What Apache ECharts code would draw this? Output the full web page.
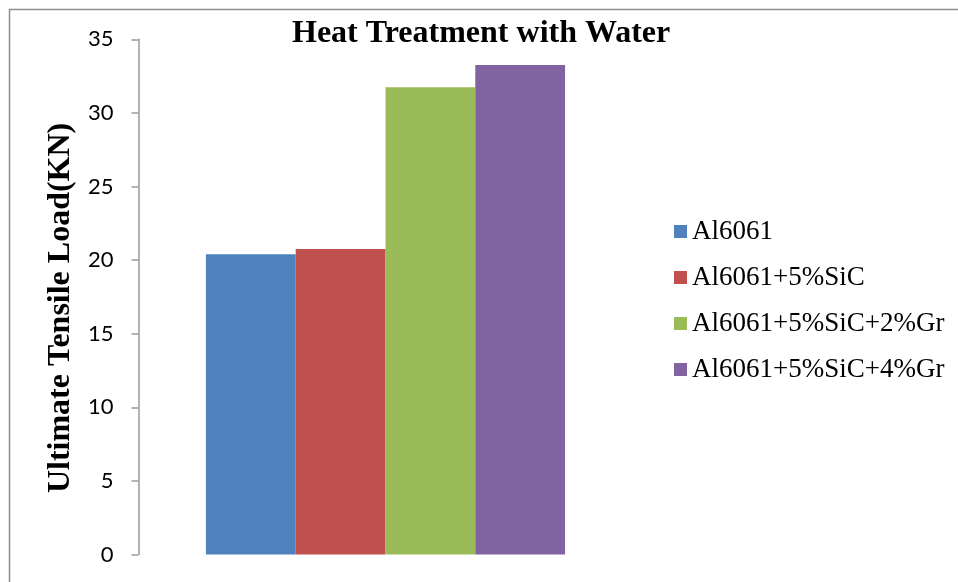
<!DOCTYPE html>
<html>
<head>
<meta charset="utf-8">
<script src="https://cdn.jsdelivr.net/npm/echarts@6/dist/echarts.min.js"></script>
<style>
html,body{margin:0;padding:0;background:#fff;}
#chart{width:958px;height:582px;}
</style>
</head>
<body>
<div id="chart"></div>
<script>
const chartTitle = 'Heat Treatment with Water';
const yAxisTitle = 'Ultimate Tensile Load(KN)';
const categories = [''];
const seriesNames = ['Al6061', 'Al6061+5%SiC', 'Al6061+5%SiC+2%Gr', 'Al6061+5%SiC+4%Gr'];
const seriesValues = [20.4, 20.75, 31.75, 33.25];
const seriesColors = ['#4F81BD', '#C0504D', '#9BBB59', '#8064A2'];
const yTicks = [0, 5, 10, 15, 20, 25, 30, 35];

const chart = echarts.init(document.getElementById('chart'), null, {renderer: 'canvas'});
const serif = '"Liberation Serif", "Times New Roman", serif';

chart.setOption({
  animation: false,
  backgroundColor: '#fff',
  title: {
    text: chartTitle,
    left: 292,
    top: 18,
    padding: 0,
    textStyle: {fontFamily: serif, fontWeight: 'bold', fontSize: 32, color: '#000'}
  },
  graphic: [{
    type: 'rect',
    shape: {x: 9.5, y: 9.5, width: 1000, height: 1000},
    style: {fill: 'none', stroke: '#8e8e8e', lineWidth: 1.5},
    silent: true,
    z: -1
  }],
  legend: {
    orient: 'vertical',
    left: 674,
    top: 218,
    padding: 0,
    itemWidth: 13,
    itemHeight: 13,
    itemGap: 19,
    icon: 'rect',
    data: seriesNames,
    textStyle: {fontFamily: serif, fontSize: 27, lineHeight: 26, color: '#000'}
  },
  grid: {left: 138.5, right: 325.5, top: 39.3, bottom: 27.5, containLabel: false},
  xAxis: {
    type: 'category',
    data: categories,
    axisLine: {show: false},
    axisTick: {show: false},
    axisLabel: {show: false},
    splitLine: {show: false}
  },
  yAxis: {
    type: 'value',
    min: yTicks[0],
    max: yTicks[yTicks.length - 1],
    interval: 5,
    name: yAxisTitle,
    nameLocation: 'middle',
    nameRotate: 90,
    nameGap: 61,
    nameTextStyle: {fontFamily: serif, fontWeight: 'bold', fontSize: 32, color: '#000', padding: [0, 22, 0, 0]},
    axisLine: {show: true, lineStyle: {color: '#9a9a9a', width: 1.5}},
    axisTick: {show: true, inside: false, length: 7, lineStyle: {color: '#9a9a9a', width: 1.5}},
    axisLabel: {margin: 25, fontFamily: 'Lato, sans-serif', fontSize: 22, color: '#000'},
    splitLine: {show: false}
  },
  series: seriesNames.map((name, i) => ({
    name: name,
    type: 'bar',
    barGap: '0%',
    barCategoryGap: '27.3%',
    itemStyle: {color: seriesColors[i]},
    data: [seriesValues[i]]
  }))
});
</script>
</body>
</html>
